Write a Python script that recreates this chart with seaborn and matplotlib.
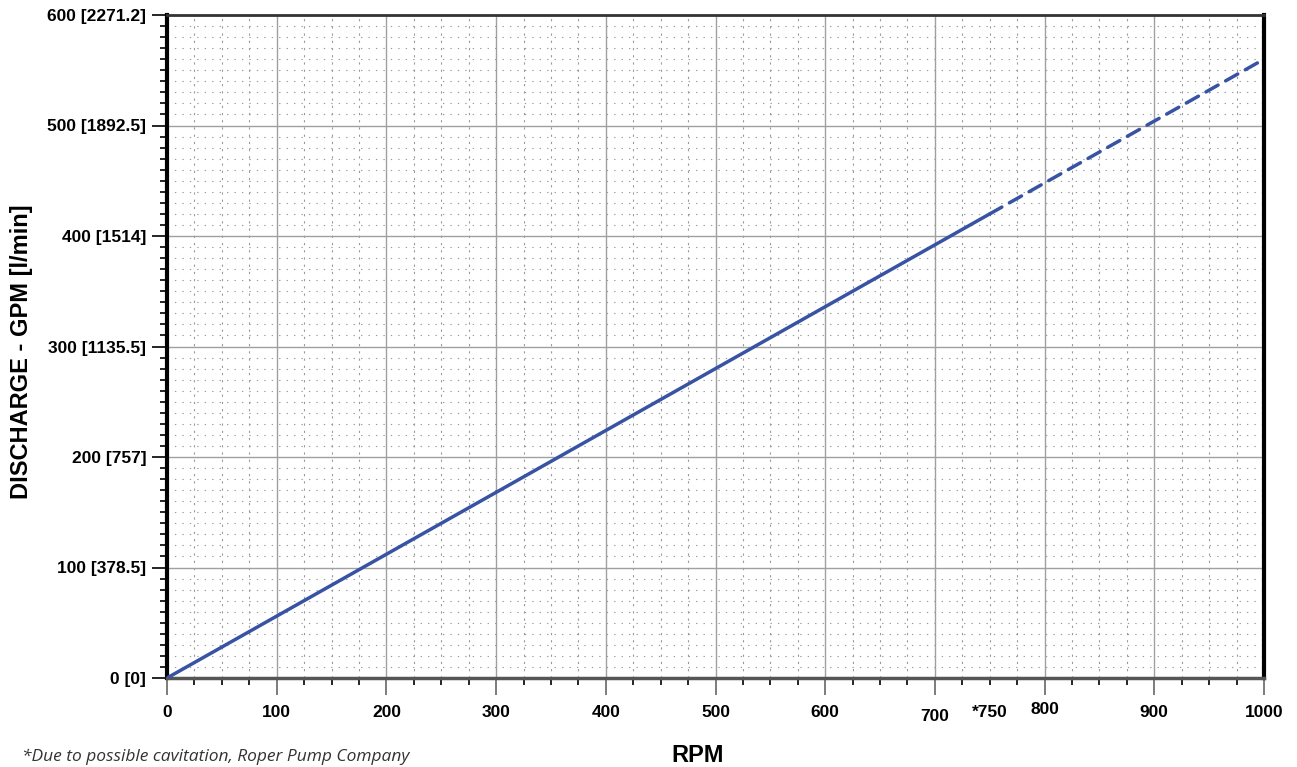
import matplotlib
matplotlib.use("Agg")
import matplotlib.pyplot as plt
import seaborn as sns
import pandas as pd
import numpy as np
from matplotlib.ticker import MultipleLocator

# ---- data ----
rpm_solid = [0, 750]
gpm_solid = [0, 420]
rpm_dashed = [750, 1000]
gpm_dashed = [420, 560]

x_ticks = [0, 100, 200, 300, 400, 500, 600, 700, 750, 800, 900, 1000]
x_tick_labels = ["0", "100", "200", "300", "400", "500", "600", "700", "*750", "800", "900", "1000"]
y_ticks = [0, 100, 200, 300, 400, 500, 600]
y_tick_labels = ["0 [0]", "100 [378.5]", "200 [757]", "300 [1135.5]", "400 [1514]",
                 "500 [1892.5]", "600 [2271.2]"]

sns.set_theme(style="white")
plt.rcParams['font.family'] = ['Liberation Sans', 'DejaVu Sans']
plt.rcParams['text.color'] = 'black'

fig = plt.figure(figsize=(12.97, 7.67), dpi=100)
ax = fig.add_axes([167/1297, 1 - 678/767, (1264-167)/1297, (678-15)/767])

line_color = "#3953a4"
df_s = pd.DataFrame({"rpm": rpm_solid, "gpm": gpm_solid})
df_d = pd.DataFrame({"rpm": rpm_dashed, "gpm": gpm_dashed})
sns.lineplot(data=df_s, x="rpm", y="gpm", ax=ax, color=line_color, lw=2.5, zorder=5)
sns.lineplot(data=df_d, x="rpm", y="gpm", ax=ax, color=line_color, lw=2.5, zorder=5)
ax.lines[-1].set_linestyle((0, (4, 2.5)))
ax.lines[-1].set_dash_capstyle("round")
ax.lines[0].set_solid_capstyle("round")

ax.set_xlim(0, 1000)
ax.set_ylim(0, 600)

# grid
ax.set_xticks([0, 100, 200, 300, 400, 500, 600, 700, 800, 900, 1000])
ax.set_yticks(y_ticks)
ax.xaxis.set_minor_locator(MultipleLocator(25))
ax.yaxis.set_minor_locator(MultipleLocator(10))
ax.grid(which="major", color="#a0a0a0", lw=1.0, ls="-")
ax.grid(which="minor", axis="y", color="#9a9a9a", lw=0.8, ls=(0, (1.2, 5.5)))
ax.grid(which="minor", axis="x", color="#9a9a9a", lw=0.8, ls=(0, (2, 4.5)))
ax.set_axisbelow(True)

# ticks
ax.tick_params(axis="y", which="major", direction="out", length=11, width=1.2, color="black",
               left=True, pad=4)
ax.tick_params(axis="y", which="minor", direction="out", length=5, width=1.2, color="black", left=True)
ax.tick_params(axis="x", which="major", direction="out", length=12, width=1.2, color="#666666",
               bottom=True, pad=8)
ax.tick_params(axis="x", which="minor", direction="out", length=5, width=1.2, color="black", bottom=True)

ax.set_yticklabels(y_tick_labels, fontsize=12.5, fontweight="bold", color="black")
ax.set_xticklabels([])

# custom x labels (including *750)
for xv, lab in zip(x_ticks, x_tick_labels):
    dy = 0
    if lab == "700":
        dy = -3
    elif lab == "800":
        dy = 2
    ax.annotate(lab, xy=(xv, 0), xycoords=("data", "axes fraction"),
                xytext=(0, -25 + dy), textcoords="offset points",
                ha="center", va="center", fontsize=12.5, fontweight="bold", color="black")

# spines
for s in ["left", "right"]:
    ax.spines[s].set_color("black")
    ax.spines[s].set_linewidth(3)
ax.spines["top"].set_color("#333333")
ax.spines["top"].set_linewidth(2)
ax.spines["bottom"].set_color("#555555")
ax.spines["bottom"].set_linewidth(2.5)

ax.set_xlabel("")
ax.set_ylabel("")
fig.text(698/1297, 1 - 756/767, "RPM", ha="center", va="center", fontsize=17,
         fontweight="bold", color="black")
fig.text(22/1297, 1 - 352/767, "DISCHARGE - GPM [l/min]", ha="center", va="center",
         rotation=90, fontsize=17, fontweight="bold", color="black")
fig.text(22/1297, 2/767, "*Due to possible cavitation, Roper Pump Company",
         ha="left", va="bottom", fontsize=12.5, style="italic", color="#333333",
         family=["Open Sans", "DejaVu Sans"])

fig.savefig("out.png", dpi=100)
